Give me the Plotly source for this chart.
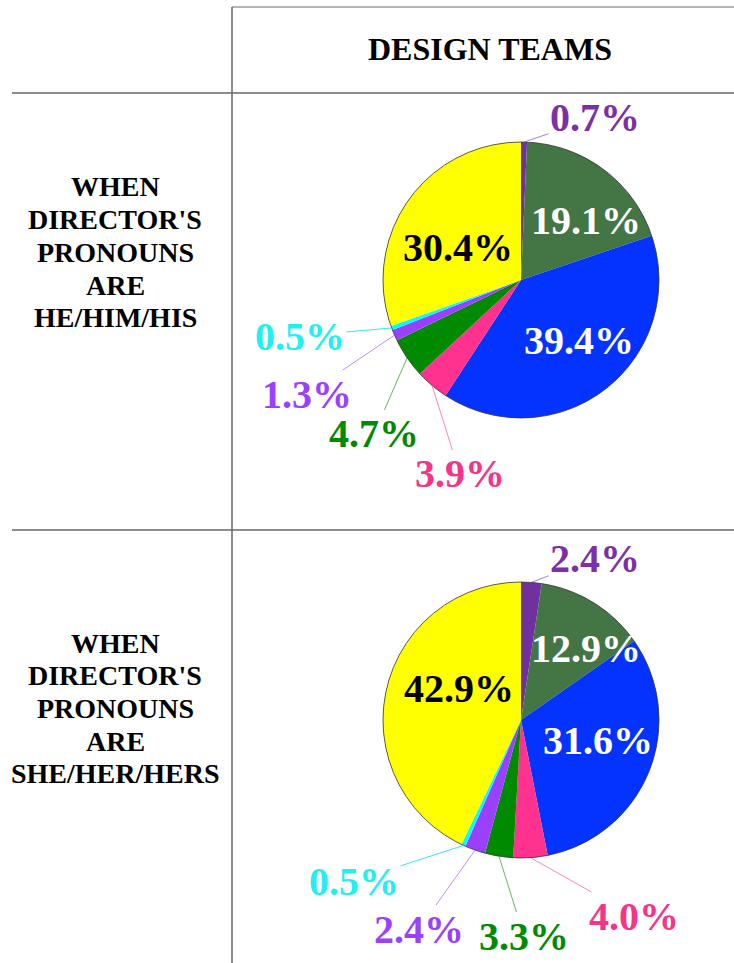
import math
import plotly.graph_objects as go

# ---------------- data ----------------
header = "DESIGN TEAMS"
row_labels = [
    ["WHEN", "DIRECTOR'S", "PRONOUNS", "ARE", "HE/HIM/HIS"],
    ["WHEN", "DIRECTOR'S", "PRONOUNS", "ARE", "SHE/HER/HERS"],
]
categories = ["Cat A", "Cat B", "Cat C", "Cat D", "Cat E", "Cat F", "Cat G", "Cat H"]
he_values = [0.7, 19.1, 39.4, 3.9, 4.7, 1.3, 0.5, 30.4]
she_values = [2.4, 12.9, 31.6, 4.0, 3.3, 2.4, 0.5, 42.9]

# ---------------- style ----------------
W, H = 734, 963
FONT = "Liberation Serif"
slice_colors = ["#7030A0", "#437545", "#0433FF", "#FF338F",
                "#008A00", "#9A40FF", "#00FFFF", "#FFFF00"]
line_colors = ["rgba(112,48,160,0.6)", "rgba(67,117,69,0.6)", "rgba(4,51,255,0.6)",
               "rgba(255,51,143,0.6)", "rgba(0,138,0,0.6)", "rgba(154,64,255,0.6)",
               "rgba(0,230,230,0.8)", "rgba(200,200,0,0.6)"]
inside_text_colors = ["#7030A0", "white", "white", "#FF338F",
                      "#008A00", "#9A40FF", "#00FFFF", "black"]
label_colors = ["#7B2FA8", "#437545", "#0433FF", "#F5348A",
                "#008A00", "#9A40FF", "#22F0F0", "black"]
LABEL_SIZE = 40

pies = [
    dict(values=he_values, cx=521, cy=280, r=138,
         offsets=[(74, -162), (65, -60), (58, 60), (-61, 194),
                  (-147, 154), (-214, 114), (-221, 56), (-63, -33)],
         outside=[True, False, False, True, True, True, True, False]),
    dict(values=she_values, cx=521, cy=720, r=138,
         offsets=[(74, -162), (65, -72), (77, 20), (113, 196),
                  (3, 216), (-102, 209), (-167, 161), (-62, -32)],
         outside=[True, False, False, True, True, True, True, False]),
]

def px2paper(x, y):
    return x / W, 1 - y / H

fig = go.Figure()
annotations = []

for p in pies:
    cx, cy, r = p["cx"], p["cy"], p["r"]
    dom_x = [(cx - r) / W, (cx + r) / W]
    dom_y = [1 - (cy + r) / H, 1 - (cy - r) / H]
    fig.add_trace(go.Pie(
        labels=categories, values=p["values"], sort=False, direction="clockwise",
        rotation=0, marker=dict(colors=slice_colors, line=dict(width=0)),
        textinfo="none", hoverinfo="label+percent", showlegend=False,
        domain=dict(x=dom_x, y=dom_y),
    ))
    # outer outline
    fig.add_trace(go.Pie(
        values=[1], labels=["outline"], sort=False, textinfo="none", hoverinfo="skip",
        marker=dict(colors=["rgba(0,0,0,0)"], line=dict(color="#333333", width=0.8)),
        showlegend=False, domain=dict(x=dom_x, y=dom_y),
    ))
    total = sum(p["values"])
    cum = 0.0
    for i, v in enumerate(p["values"]):
        mid = (cum + v / 2) / total * 2 * math.pi
        cum += v
        dx, dy = p["offsets"][i]
        lx, ly = cx + dx, cy + dy
        txt = f"{v:.1f}%"
        if p["outside"][i]:
            ex = cx + r * math.sin(mid)
            ey = cy - r * math.cos(mid)
            x, y = px2paper(ex, ey)
            annotations.append(dict(
                x=x, y=y, xref="paper", yref="paper", text=f"<b>{txt}</b>",
                showarrow=True, arrowhead=0, arrowwidth=1, arrowcolor=line_colors[i],
                ax=lx - ex, ay=ly - ey, standoff=0, startstandoff=0,
                font=dict(family=FONT, size=LABEL_SIZE, color=label_colors[i]),
                xanchor="center", yanchor="middle",
            ))
        else:
            x, y = px2paper(lx, ly)
            annotations.append(dict(
                x=x, y=y, xref="paper", yref="paper", text=f"<b>{txt}</b>",
                showarrow=False,
                font=dict(family=FONT, size=LABEL_SIZE, color=inside_text_colors[i]),
                xanchor="center", yanchor="middle",
            ))

# header
hx, hy = px2paper(490, 49)
annotations.append(dict(x=hx, y=hy, xref="paper", yref="paper", text=f"<b>{header}</b>",
                        showarrow=False, font=dict(family=FONT, size=32, color="black"),
                        xanchor="center", yanchor="middle"))

# row labels, one line each for tight spacing
row_first_y = [187, 643]
LINE_STEP = 32.7
for rows, y0 in zip(row_labels, row_first_y):
    for k, line in enumerate(rows):
        x, y = px2paper(115, y0 + k * LINE_STEP)
        annotations.append(dict(x=x, y=y, xref="paper", yref="paper", text=f"<b>{line}</b>",
                                showarrow=False, font=dict(family=FONT, size=28, color="black"),
                                xanchor="center", yanchor="middle"))

# table grid lines
shapes = []
def hline(y, x0, x1, color, width):
    _, yy = px2paper(0, y)
    shapes.append(dict(type="line", xref="paper", yref="paper", x0=x0 / W, x1=x1 / W,
                       y0=yy, y1=yy, line=dict(color=color, width=width)))

hline(7, 232, W, "#b5b5b5", 2)
hline(93, 12, W, "#666666", 1.5)
hline(530, 12, W, "#666666", 1.5)
shapes.append(dict(type="line", xref="paper", yref="paper", x0=232 / W, x1=232 / W,
                   y0=0, y1=1 - 7 / H, line=dict(color="#666666", width=1.5)))

fig.update_layout(
    width=W, height=H, margin=dict(l=0, r=0, t=0, b=0),
    paper_bgcolor="white", plot_bgcolor="white",
    annotations=annotations, shapes=shapes, showlegend=False,
)

fig.write_html(
    "out.html",
    config={"displayModeBar": False},
    post_script="document.body.style.margin='0px';document.body.style.overflow='hidden';",
)
